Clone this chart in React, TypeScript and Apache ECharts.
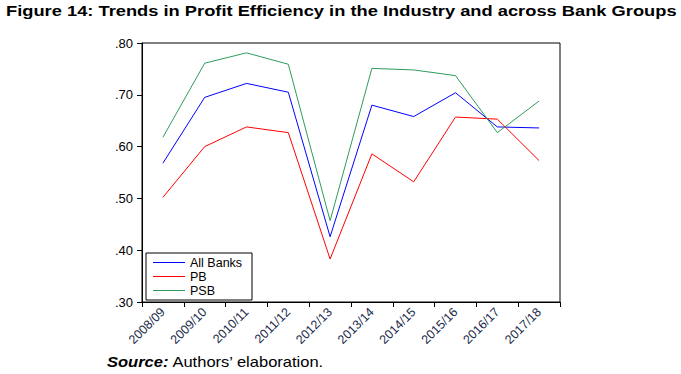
import React, { useEffect, useRef } from "react";
import * as echarts from "echarts";

const categories = ["2008/09", "2009/10", "2010/11", "2011/12", "2012/13", "2013/14", "2014/15", "2015/16", "2016/17", "2017/18"];
const allBanks = [0.568, 0.695, 0.722, 0.705, 0.426, 0.680, 0.658, 0.704, 0.638, 0.636];
const pb = [0.502, 0.600, 0.638, 0.627, 0.383, 0.586, 0.532, 0.657, 0.653, 0.573];
const psb = [0.618, 0.761, 0.781, 0.759, 0.457, 0.751, 0.748, 0.737, 0.627, 0.688];
const titleText = "Figure 14: Trends in Profit Efficiency in the Industry and across Bank Groups";

export default function App() {
  const ref = useRef<HTMLDivElement>(null);
  useEffect(() => {
    if (!ref.current) return;
    const chart = echarts.init(ref.current, null, { renderer: "svg" });
    const font = "Arial, 'Liberation Sans', sans-serif";
    chart.setOption({
      animation: false,
      backgroundColor: "#fff",
      grid: { left: 142, right: 121, top: 43, bottom: 72, show: true, borderColor: "#000", borderWidth: 1, backgroundColor: "transparent" },
      xAxis: {
        type: "category",
        data: categories,
        boundaryGap: true,
        axisLine: { lineStyle: { color: "#000", width: 1 } },
        axisTick: { show: true, inside: false, length: 5, lineStyle: { color: "#000" } },
        axisLabel: { rotate: 45, color: "#1a2a4a", fontFamily: font, fontSize: 12.5, margin: 8 },
        splitLine: { show: false },
      },
      yAxis: {
        type: "value",
        min: 0.3,
        max: 0.8,
        interval: 0.1,
        axisLine: { show: true, lineStyle: { color: "#000", width: 1 } },
        axisTick: { show: true, inside: false, length: 5, lineStyle: { color: "#000" } },
        axisLabel: { color: "#000", fontFamily: font, fontSize: 13, margin: 9, formatter: (v: number) => v.toFixed(2).replace(/^0/, "") },
        splitLine: { show: false },
      },
      legend: {
        orient: "vertical",
        left: 146,
        top: 253,
        backgroundColor: "#fff",
        borderColor: "#000",
        borderWidth: 1,
        padding: [3, 4, 3, 7],
        itemGap: 1,
        itemWidth: 32,
        itemHeight: 1,
        icon: "rect",
        textStyle: { fontFamily: font, fontSize: 12.5, color: "#000", lineHeight: 13, width: 58 },
        data: ["All Banks", "PB", "PSB"],
      },
      series: [
        { name: "All Banks", type: "line", data: allBanks, symbol: "none", lineStyle: { color: "#0000ff", width: 1 }, itemStyle: { color: "#0000ff" } },
        { name: "PB", type: "line", data: pb, symbol: "none", lineStyle: { color: "#ff0000", width: 1 }, itemStyle: { color: "#ff0000" } },
        { name: "PSB", type: "line", data: psb, symbol: "none", lineStyle: { color: "#2f9c5c", width: 1 }, itemStyle: { color: "#2f9c5c" } },
      ],
      graphic: [
        {
          type: "text",
          x: 6,
          y: 4,
          scaleX: 1.22,
          style: { text: titleText, fontFamily: font, fontWeight: "bold", fontSize: 15, fill: "#000" },
        },
        {
          type: "text",
          x: 107,
          y: 355,
          scaleX: 1.18,
          style: {
            text: "{b|Source:} {n|Authors’ elaboration.}",
            rich: {
              b: { fontFamily: font, fontWeight: "bold", fontStyle: "italic", fontSize: 14, fill: "#000" },
              n: { fontFamily: font, fontSize: 14, fill: "#000" },
            },
          },
        },
      ],
    });
    return () => chart.dispose();
  }, []);
  return <div ref={ref} style={{ position: "fixed", left: 0, top: 0, width: 681, height: 374 }} />;
}
